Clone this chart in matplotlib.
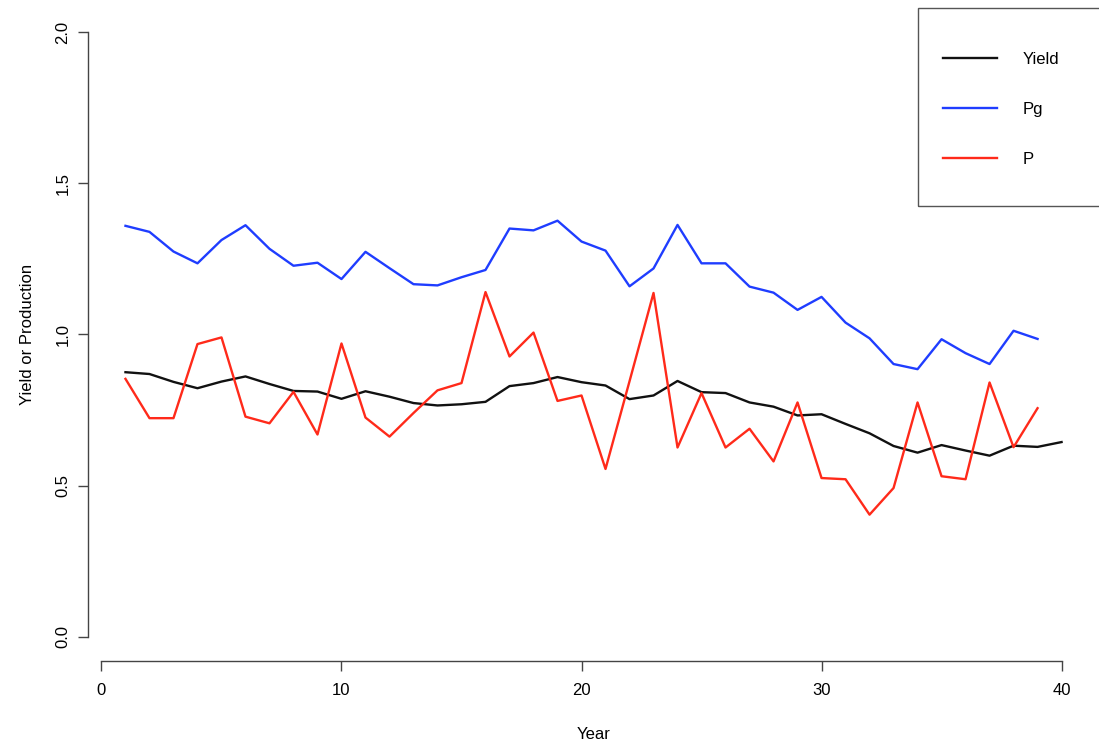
import matplotlib.pyplot as plt
from matplotlib.patches import Rectangle

plt.rcParams['font.family'] = ['Liberation Sans', 'DejaVu Sans']

years = list(range(1, 41))

yield_vals = [0.875, 0.869, 0.843, 0.822, 0.844, 0.861, 0.836, 0.813, 0.811, 0.787,
              0.812, 0.794, 0.773, 0.765, 0.769, 0.777, 0.829, 0.839, 0.859, 0.842,
              0.831, 0.786, 0.798, 0.846, 0.809, 0.806, 0.775, 0.761, 0.732, 0.736,
              0.704, 0.673, 0.631, 0.609, 0.634, 0.616, 0.599, 0.632, 0.628, 0.644]

pg_vals = [1.359, 1.339, 1.274, 1.235, 1.312, 1.361, 1.283, 1.227, 1.237, 1.183,
           1.273, 1.219, 1.166, 1.162, 1.189, 1.213, 1.350, 1.344, 1.376, 1.307,
           1.277, 1.159, 1.218, 1.362, 1.235, 1.235, 1.158, 1.138, 1.081, 1.124,
           1.039, 0.987, 0.902, 0.885, 0.984, 0.938, 0.902, 1.012, 0.985]

p_vals = [0.853, 0.723, 0.723, 0.968, 0.990, 0.728, 0.706, 0.810, 0.669, 0.970,
          0.725, 0.662, 0.740, 0.815, 0.839, 1.140, 0.927, 1.006, 0.780, 0.798,
          0.555, 0.845, 1.137, 0.626, 0.806, 0.626, 0.688, 0.580, 0.775, 0.525,
          0.521, 0.404, 0.492, 0.775, 0.531, 0.521, 0.841, 0.627, 0.756]

x_ticks = [0, 10, 20, 30, 40]
y_ticks = [0.0, 0.5, 1.0, 1.5, 2.0]

W, H = 1099, 747
fig = plt.figure(figsize=(W / 100, H / 100), dpi=100)
ax = fig.add_axes([0.0801, 0.1151, 0.9199, 0.8745])

ax.plot(years, yield_vals, color='#111111', lw=1.7, label='Yield')
ax.plot(years[:len(pg_vals)], pg_vals, color='#1f3dff', lw=1.7, label='Pg')
ax.plot(years[:len(p_vals)], p_vals, color='#ff2a1a', lw=1.7, label='P')

# R-style detached axes
ax.set_xlim(-0.56, 41.56)
ax.set_ylim(-0.08, 2.08)
for side in ['top', 'right']:
    ax.spines[side].set_visible(False)
ax.spines['left'].set_bounds(0, 2)
ax.spines['bottom'].set_bounds(0, 40)
for side in ['left', 'bottom']:
    ax.spines[side].set_color('#444444')
    ax.spines[side].set_linewidth(1.0)

ax.set_xticks(x_ticks)
ax.set_yticks(y_ticks)
ax.set_yticklabels([f'{v:.1f}' for v in y_ticks], rotation=90, va='center')
ax.tick_params(axis='both', length=7.2, width=1.0, color='#444444', labelsize=12)
ax.tick_params(axis='x', pad=8.6)
ax.tick_params(axis='y', pad=5.5)

ax.set_xlabel('Year', fontsize=12)
ax.xaxis.set_label_coords(0.5, -0.113)
ax.xaxis.label.set_va('center')
ax.set_ylabel('Yield or Production', fontsize=12)
ax.yaxis.set_label_coords(-0.0603, 0.5)
ax.yaxis.label.set_va('center')

# legend frame runs off the right edge, like the original
fig.patches.append(Rectangle((918 / W, 1 - 206 / H), 0.2, 198 / H,
                             transform=fig.transFigure, fill=False,
                             edgecolor='#555555', lw=1.0))
ax.legend(loc='upper left', bbox_to_anchor=(943 / W, 1 - 52 / H),
          bbox_transform=fig.transFigure, borderaxespad=0, borderpad=0,
          frameon=False, fontsize=12, handlelength=3.25,
          handletextpad=1.5, labelspacing=2.1)

fig.savefig('out.png', dpi=100)
